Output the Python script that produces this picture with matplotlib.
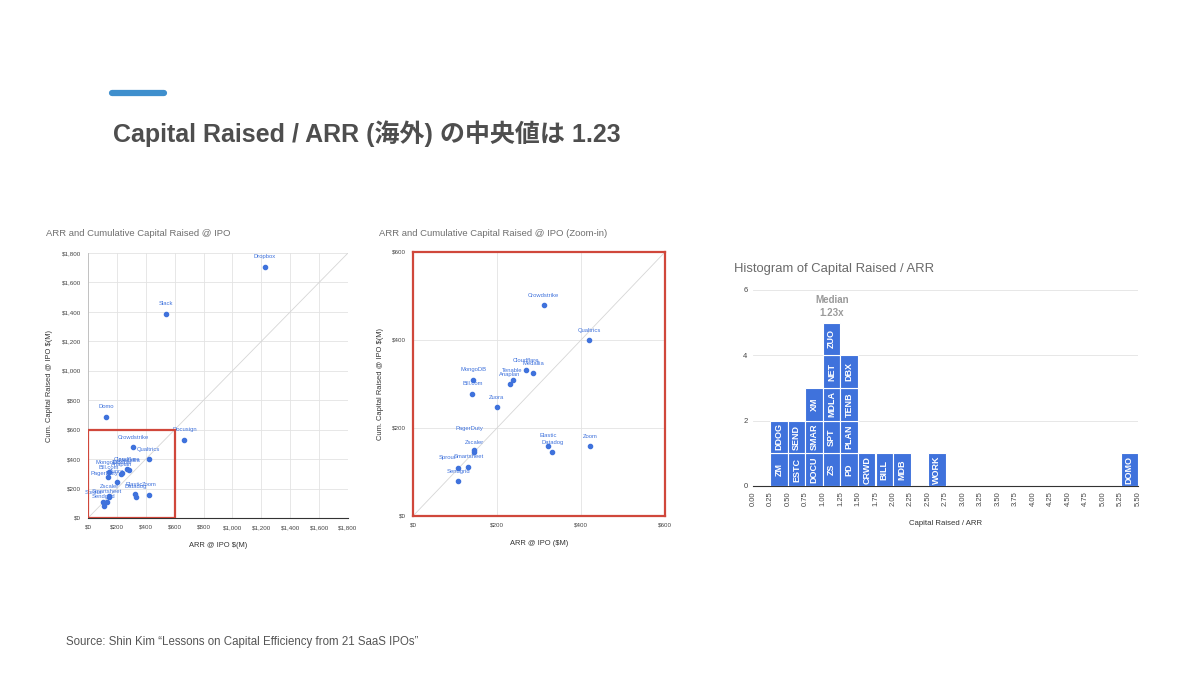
import numpy as np
import matplotlib
matplotlib.use("Agg")
from matplotlib import pyplot as plt
from matplotlib.patches import Rectangle

plt.rcParams['font.family'] = ['Liberation Sans', 'Noto Sans CJK JP', 'DejaVu Sans']

# Scatter data: ARR @ IPO ($M) and cumulative capital raised @ IPO ($M)
companies = ["Dropbox", "Slack", "Domo", "Docusign", "Crowdstrike", "Qualtrics",
             "Cloudflare", "Medallia", "Tenable", "Anaplan", "MongoDB", "Bill.com",
             "Zuora", "PagerDuty", "Zscaler", "Smartsheet", "Sprout", "Sendgrid",
             "Elastic", "Datadog", "Zoom"]
arr = [1225, 538, 125, 667, 311, 420, 269, 286, 237, 231, 143, 141,
       199, 145, 146, 132, 106, 108, 322, 332, 422]
capital = [1707, 1389, 688, 533, 480, 399, 332, 324, 309, 299, 310, 278,
           247, 149, 146, 112, 110, 79, 160, 146, 159]

# Histogram of capital raised / ARR: bin left edges and stacked tickers
bin_left = [0.25, 0.50, 0.75, 1.00, 1.25, 1.50, 1.75, 2.00, 2.50, 5.25]
bin_tickers = [["ZM", "DDOG"], ["ESTC", "SEND"], ["DOCU", "SMAR", "XM"],
               ["ZS", "SPT", "MDLA", "NET", "ZUO"], ["PD", "PLAN", "TENB", "DBX"],
               ["CRWD"], ["BILL"], ["MDB"], ["WORK"], ["DOMO"]]
median_ratio = 1.23

# label offsets (points) where Google Charts nudged a label
label_offsets = {"PagerDuty": (-3, 16), "Sprout": (-7, 7)}

dot_color = '#3f72dc'
bar_color = '#3f72dc'
red = '#d0473b'
grid_color = '#e3e3e3'
tick_color = '#444444'

fig = plt.figure(figsize=(12, 6.75), dpi=100)
fig.patch.set_facecolor('white')

# header
fig.add_artist(plt.Line2D([112/1200, 164/1200], [1-93/675, 1-93/675], color='#3f8fcd',
                          lw=4.5, solid_capstyle='round'))
fig.text(113/1200, 1-142/675, "Capital Raised / ARR (海外) の中央値は 1.23",
         fontsize=18, fontweight='bold', color='#4e4e4e', va='baseline')
fig.text(66/1200, 1-645/675, "Source: Shin Kim “Lessons on Capital Efficiency from 21 SaaS IPOs”",
         fontsize=8.3, color='#555555', va='baseline')


def scatter_panel(ax, lim, step):
    ax.set_xlim(0, lim)
    ax.set_ylim(0, lim)
    ticks = np.arange(0, lim + 1, step)
    ax.set_xticks(ticks)
    ax.set_yticks(ticks)
    ax.set_xticklabels([f"${t:,.0f}" for t in ticks])
    ax.set_yticklabels([f"${t:,.0f}" for t in ticks])
    ax.tick_params(length=0, labelsize=4.5, colors=tick_color, pad=5)
    ax.grid(True, color=grid_color, lw=0.6)
    ax.set_axisbelow(True)
    for s in ['top', 'right']:
        ax.spines[s].set_visible(False)
    ax.spines['left'].set_color('#bbbbbb')
    ax.spines['bottom'].set_color('#333333')
    ax.spines['left'].set_linewidth(0.6)
    ax.spines['bottom'].set_linewidth(0.8)
    ax.plot([0, lim], [0, lim], color='#d6d6d6', lw=0.6, zorder=1)
    ax.scatter(arr, capital, s=9, color=dot_color, zorder=3, clip_on=True)
    for name, x, y in zip(companies, arr, capital):
        if x > lim or y > lim:
            continue
        dx, dy = label_offsets.get(name, (0, 7))
        ax.annotate(name, (x, y), xytext=(dx, dy), textcoords='offset points',
                    ha='center', va='center', fontsize=4.2, color=dot_color)
    ax.set_ylabel("Cum. Capital Raised @ IPO $(M)", fontsize=5.4, color='#333333', labelpad=6)


# left: full range
ax1 = fig.add_axes([88/1200, 1-518/675, 260/1200, 265/675])
scatter_panel(ax1, 1800, 200)
ax1.set_xlabel("ARR @ IPO $(M)", fontsize=5.4, color='#333333', labelpad=9)
ax1.add_patch(Rectangle((0, 0), 600, 600, fill=False, edgecolor=red, lw=1.6, zorder=4))
fig.text(46/1200, 1-236/675, "ARR and Cumulative Capital Raised @ IPO",
         fontsize=6.8, color='#6f6f6f')

# middle: zoom-in
ax2 = fig.add_axes([413/1200, 1-516/675, 252/1200, 264/675])
scatter_panel(ax2, 600, 200)
ax2.set_xlabel("ARR @ IPO ($M)", fontsize=5.4, color='#333333', labelpad=9)
for s in ax2.spines.values():
    s.set_visible(True)
    s.set_color(red)
    s.set_linewidth(1.6)
    s.set_zorder(5)
fig.text(379/1200, 1-236/675, "ARR and Cumulative Capital Raised @ IPO (Zoom-in)",
         fontsize=6.8, color='#6f6f6f')

# right: histogram
ax3 = fig.add_axes([753/1200, 1-486/675, 385/1200, 196/675])
for left, tickers in zip(bin_left, bin_tickers):
    for i, t in enumerate(tickers):
        ax3.bar(left, 1, bottom=i, width=0.25, align='edge', color=bar_color,
                edgecolor='white', lw=0.8, zorder=3)
        ax3.text(left + 0.125, i + 0.5, t, rotation=90, ha='center', va='center',
                 fontsize=6.5, fontweight='bold', color='white', zorder=4)
ax3.text(1.125, 5.5, f"Median\n{median_ratio}x", ha='center', va='center',
         fontsize=7, fontweight='bold', color='#9a9a9a', linespacing=1.3)
ax3.set_xlim(0, 5.5)
ax3.set_ylim(0, 6)
xt = np.arange(0, 5.51, 0.25)
ax3.set_xticks(xt)
ax3.set_xticklabels([f"{t:.2f}" for t in xt], rotation=90)
ax3.set_yticks([0, 2, 4, 6])
ax3.tick_params(length=0, labelsize=5.5, colors=tick_color, pad=4)
ax3.grid(True, axis='y', color=grid_color, lw=0.6)
ax3.set_axisbelow(True)
for s in ['top', 'right', 'left']:
    ax3.spines[s].set_visible(False)
ax3.spines['bottom'].set_color('#333333')
ax3.spines['bottom'].set_linewidth(0.8)
ax3.set_xlabel("Capital Raised / ARR", fontsize=5.6, color='#333333', labelpad=10)
fig.text(734/1200, 1-272/675, "Histogram of Capital Raised / ARR",
         fontsize=9.4, color='#6a6a6a')

fig.savefig("out.png", dpi=100, facecolor='white')
